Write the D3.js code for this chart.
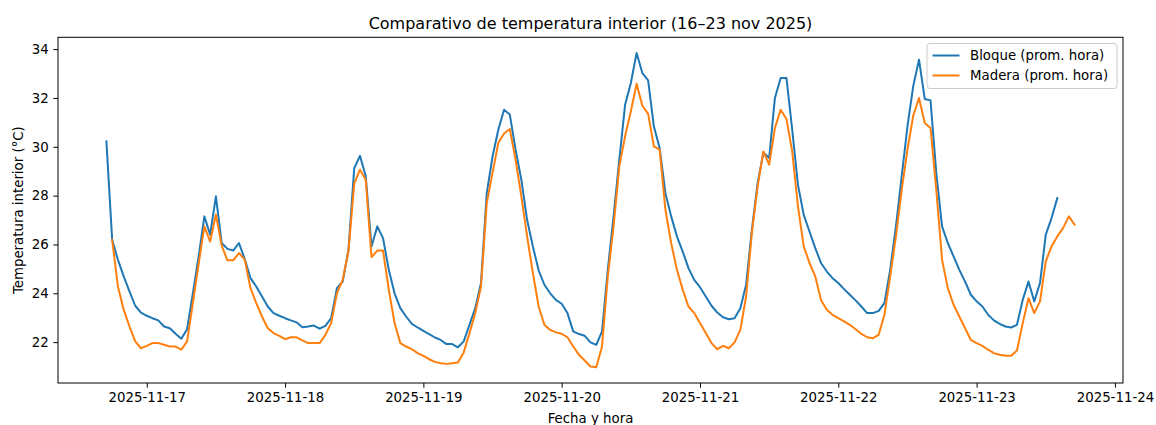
<!DOCTYPE html>
<html>
<head>
<meta charset="utf-8">
<script src="https://cdn.jsdelivr.net/npm/d3@7"></script>
<style>
  body { margin: 0; background: #fff; }
  svg text { font-family: 'DejaVu Sans', sans-serif; fill: #000; }
</style>
</head>
<body>
<div id="chart"></div>
<script>
// series are hourly averages, first reading of each series given as a start time
const seriesNames = ['Bloque (prom. hora)', 'Madera (prom. hora)'];
const seriesColors = ['#1f77b4', '#ff7f0e'];
const bloqueStart = '2025-11-16 17:00';
const maderaStart = '2025-11-16 18:00';

const bloque = [
  30.22, 26.19, 25.37, 24.69, 24.08, 23.49, 23.21,
  23.08, 22.98, 22.89, 22.64, 22.57, 22.34, 22.14, 22.53, 24.0, 25.5, 27.15, 26.4,
  27.97, 26.06, 25.82, 25.75, 26.06, 25.4, 24.62, 24.28, 23.87, 23.46, 23.19, 23.08,
  22.98, 22.89, 22.81, 22.61, 22.64, 22.68, 22.55, 22.67, 22.98, 24.21, 24.48, 25.78,
  29.12, 29.63, 28.79, 25.92, 26.74, 26.26, 24.96, 24.0, 23.39, 23.05, 22.75, 22.6,
  22.46, 22.33, 22.19, 22.09, 21.92, 21.92, 21.79, 22.03, 22.71, 23.39, 24.42, 28.1,
  29.6, 30.7, 31.52, 31.32, 29.88, 28.65, 27.01, 25.92, 24.94, 24.35, 24.0, 23.73,
  23.57, 23.19, 22.44, 22.33, 22.26, 21.99, 21.89, 22.44, 24.96, 27.15, 29.47, 31.72,
  32.61, 33.84, 33.02, 32.72, 30.83, 29.95, 28.1, 27.15, 26.33, 25.71, 25.03, 24.55,
  24.25, 23.87, 23.49, 23.21, 23.02, 22.94, 22.98, 23.39, 24.35, 26.6, 28.51, 29.77,
  29.54, 32.0, 32.82, 32.82, 30.7, 28.44, 27.21, 26.53, 25.85, 25.24, 24.89, 24.62,
  24.42, 24.17, 23.94, 23.71, 23.46, 23.19, 23.19, 23.28, 23.6, 24.96, 26.74, 28.79,
  30.84, 32.48, 33.57, 31.96, 31.9, 28.93, 26.74, 26.06, 25.51, 24.96, 24.48, 23.94,
  23.67, 23.46, 23.12, 22.89, 22.75, 22.64, 22.6, 22.71, 23.73, 24.48, 23.67, 24.42,
  26.4, 27.08, 27.9
];

const madera = [
  26.19, 24.28, 23.33, 22.64, 22.03, 21.75,
  21.85, 21.96, 21.96, 21.89, 21.82, 21.82, 21.69, 22.03, 23.6, 25.2, 26.74, 26.12,
  27.22, 25.95, 25.35, 25.35, 25.65, 25.38, 24.21, 23.6, 23.05, 22.57, 22.37, 22.26,
  22.12, 22.2, 22.2, 22.07, 21.96, 21.96, 21.96, 22.3, 22.78, 24.0, 24.55, 25.72,
  28.49, 29.06, 28.65, 25.48, 25.75, 25.75, 24.15, 22.78, 21.96, 21.82, 21.71, 21.55,
  21.44, 21.3, 21.19, 21.14, 21.11, 21.14, 21.17, 21.58, 22.37, 23.19, 24.28, 27.7,
  28.93, 30.16, 30.54, 30.73, 29.47, 27.97, 26.33, 24.83, 23.46, 22.71, 22.5, 22.4,
  22.34, 22.2, 21.82, 21.48, 21.25, 21.0, 20.97, 21.82, 24.69, 26.74, 29.2, 30.43,
  31.45, 32.58, 31.68, 31.35, 30.02, 29.88, 27.42, 26.05, 24.96, 24.15, 23.46, 23.19,
  22.78, 22.37, 21.96, 21.71, 21.85, 21.75, 21.99, 22.5, 23.87, 26.47, 28.38, 29.81,
  29.27, 30.77, 31.52, 31.14, 29.81, 27.56, 25.92, 25.24, 24.69, 23.73, 23.33, 23.12,
  22.98, 22.85, 22.71, 22.53, 22.34, 22.2, 22.16, 22.3, 23.12, 24.69, 26.33, 28.24,
  29.88, 31.27, 32.0, 30.97, 30.77, 28.24, 25.38, 24.21, 23.53, 23.05, 22.57, 22.09,
  21.96, 21.85, 21.69, 21.55, 21.48, 21.44, 21.44, 21.66, 22.78, 23.8, 23.19, 23.67,
  25.31, 25.92, 26.33, 26.67, 27.15, 26.81
];

const yTicks = [22, 24, 26, 28, 30, 32, 34];

const svgWidth = 1156;
const svgHeight = 425;
const margin = {top: 37.3, right: 33, bottom: 42, left: 58};
const width = svgWidth - margin.left - margin.right;
const height = svgHeight - margin.top - margin.bottom;

const parseTime = d3.timeParse('%Y-%m-%d %H:%M');

function toPoints(start, values) {
  const t0 = parseTime(start);
  return values.map((v, i) => ({t: d3.timeHour.offset(t0, i), v: v}));
}

const series = [toPoints(bloqueStart, bloque), toPoints(maderaStart, madera)];
const all = series.flat();

// matplotlib style 5% margins
const tExt = d3.extent(all, d => +d.t);
const tPad = (tExt[1] - tExt[0]) * 0.05;
const vExt = d3.extent(all, d => d.v);
const vPad = (vExt[1] - vExt[0]) * 0.05;

const x = d3.scaleTime()
  .domain([new Date(tExt[0] - tPad), new Date(tExt[1] + tPad)])
  .range([0, width]);
const y = d3.scaleLinear()
  .domain([vExt[0] - vPad, vExt[1] + vPad])
  .range([height, 0]);

const svg = d3.select('#chart').append('svg')
  .attr('width', svgWidth)
  .attr('height', svgHeight);

const g = svg.append('g')
  .attr('transform', `translate(${margin.left},${margin.top})`);

const xAxis = g.append('g')
  .attr('transform', `translate(0,${height})`)
  .call(d3.axisBottom(x)
    .ticks(d3.timeDay.every(1))
    .tickFormat(d3.timeFormat('%Y-%m-%d'))
    .tickSize(4.67).tickPadding(4.67).tickSizeOuter(0));

const yAxis = g.append('g')
  .call(d3.axisLeft(y)
    .tickValues(yTicks)
    .tickSize(4.67).tickPadding(4.67).tickSizeOuter(0));

[xAxis, yAxis].forEach(a => {
  a.select('.domain').remove();
  a.selectAll('.tick line').attr('stroke', '#000').attr('stroke-width', 1);
  a.selectAll('.tick text').attr('font-size', 13.33).attr('font-family', 'DejaVu Sans').attr('fill', '#000');
});

const line = d3.line()
  .x(d => x(d.t))
  .y(d => y(d.v));

g.selectAll('path.serie').data(series).enter()
  .append('path')
  .attr('class', 'serie')
  .attr('d', line)
  .attr('fill', 'none')
  .attr('stroke', (d, i) => seriesColors[i])
  .attr('stroke-width', 2)
  .attr('stroke-linejoin', 'round')
  .attr('stroke-linecap', 'square');

// frame
g.append('rect')
  .attr('width', width)
  .attr('height', height)
  .attr('fill', 'none')
  .attr('stroke', '#000')
  .attr('stroke-width', 1);

// titles
svg.append('text')
  .attr('x', margin.left + width / 2)
  .attr('y', 29)
  .attr('text-anchor', 'middle')
  .attr('font-size', 16)
  .text('Comparativo de temperatura interior (16–23 nov 2025)');

svg.append('text')
  .attr('x', margin.left + width / 2)
  .attr('y', 423)
  .attr('text-anchor', 'middle')
  .attr('font-size', 13.33)
  .text('Fecha y hora');

svg.append('text')
  .attr('transform', `translate(23,${margin.top + height / 2}) rotate(-90)`)
  .attr('text-anchor', 'middle')
  .attr('font-size', 13.33)
  .text('Temperatura interior (°C)');

// legend
const legend = svg.append('g').attr('transform', 'translate(927,43.5)');
legend.append('rect')
  .attr('width', 190)
  .attr('height', 45)
  .attr('rx', 3)
  .attr('fill', '#fff')
  .attr('fill-opacity', 0.8)
  .attr('stroke', '#ccc')
  .attr('stroke-width', 1);

const items = legend.selectAll('g.item').data(seriesNames).enter()
  .append('g')
  .attr('transform', (d, i) => `translate(0,${12 + i * 20})`);
items.append('line')
  .attr('x1', 5.5).attr('x2', 32.5)
  .attr('stroke', (d, i) => seriesColors[i])
  .attr('stroke-width', 2);
items.append('text')
  .attr('x', 43)
  .attr('y', 4.7)
  .attr('font-size', 13.33)
  .text(d => d);
</script>
</body>
</html>
